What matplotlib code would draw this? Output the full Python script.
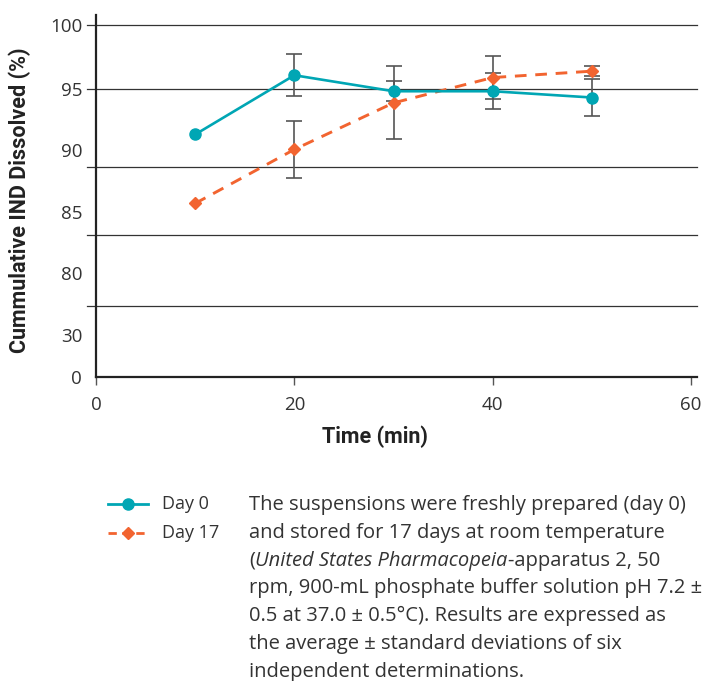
import matplotlib.pyplot as plt
from matplotlib.lines import Line2D

# data (% IND dissolved vs. time)
time_min = [10, 20, 30, 40, 50]
day0 = [91.46, 96.09, 94.84, 94.84, 94.35]
day0_sd = [0, 1.65, 0.8, 1.4, 1.45]
day17 = [86.07, 90.29, 93.93, 95.91, 96.41]
day17_sd = [0, 2.2, 2.85, 1.7, 0.4]

# broken y-axis of the original: label text and where it sits
ytick_labels = ['0', '30', '80', '85', '90', '95', '100']
ytick_pos = [72.5, 75.78, 80.63, 85.39, 90.23, 95, 100]
grid_pos = [100, 95, 88.91, 83.59, 78.05]
xticks = [0, 20, 40, 60]

note_lines = [
    "The suspensions were freshly prepared (day 0)",
    "and stored for 17 days at room temperature",
    None,  # line with italic part, drawn separately
    "rpm, 900-mL phosphate buffer solution pH 7.2 \u00b1",
    "0.5 at 37.0 \u00b1 0.5\u00b0C). Results are expressed as",
    "the average \u00b1 standard deviations of six",
    "independent determinations.",
]

TEAL = '#00a6b4'
ORANGE = '#f26430'
FONT = 'Open Sans'
BOLD = 'Roboto'

W, H = 705, 681
fig = plt.figure(figsize=(W / 100, H / 100), dpi=100)
ax = fig.add_axes([96 / W, 1 - 377 / H, (697 - 96) / W, (377 - 15) / H])

ax.set_xlim(0, 60.6)
ax.set_ylim(72.5, 100.8)

for g in grid_pos:
    ax.plot([-0.9, 60.6], [g, g], color='#333333', lw=0.9, clip_on=False, zorder=1)

# error bars (first point has none)
ax.errorbar(time_min[1:], day0[1:], yerr=day0_sd[1:], fmt='none', ecolor='#555555',
            elinewidth=1.2, capsize=5.5, capthick=1.2, zorder=2)
ax.errorbar(time_min[1:], day17[1:], yerr=day17_sd[1:], fmt='none', ecolor='#555555',
            elinewidth=1.2, capsize=5.5, capthick=1.2, zorder=2)

ax.plot(time_min, day17, color=ORANGE, lw=2.1, ls=(0, (4, 3)), marker='D', ms=6,
        zorder=3)
ax.plot(time_min, day0, color=TEAL, lw=1.9, marker='o', ms=8, zorder=4)

for s in ['top', 'right']:
    ax.spines[s].set_visible(False)
for s in ['left', 'bottom']:
    ax.spines[s].set_linewidth(1.6)
    ax.spines[s].set_color('#222222')

ax.set_yticks(ytick_pos)
ax.set_yticklabels(ytick_labels, fontfamily=FONT, fontsize=13.5, color='#333333')
ax.tick_params(axis='y', length=0, pad=10)
ax.set_xticks(xticks)
ax.set_xticklabels([str(x) for x in xticks], fontfamily=FONT, fontsize=13.5, color='#333333')
ax.tick_params(axis='x', length=6, width=1, color='#555555', pad=8)

fig.text(375 / W, 1 - 437 / H, 'Time (min)', ha='center', va='center',
         fontfamily=BOLD, fontweight='bold', fontsize=15.5, color='#222222')
fig.text(20 / W, 1 - 200 / H, 'Cummulative IND Dissolved (%)', ha='center', va='center',
         rotation=90, fontfamily=BOLD, fontweight='bold', fontsize=15.5, color='#222222')

# legend drawn by hand, next to the note
for i, (lab, col, mk, ms, ls) in enumerate([('Day 0', TEAL, 'o', 8, '-'),
                                             ('Day 17', ORANGE, 'D', 6, (0, (3, 2)))]):
    yp = 1 - (504 + i * 29) / H
    fig.add_artist(Line2D([108 / W, 148 / W], [yp, yp], color=col, lw=2, ls=ls))
    fig.add_artist(Line2D([128 / W], [yp], color=col, marker=mk, ms=ms, ls='none'))
    fig.text(162 / W, yp, lab, ha='left', va='center', fontfamily=FONT,
             fontsize=13, color='#333333')

note_kw = dict(fontfamily=FONT, fontsize=14.5, color='#333333', va='baseline', ha='left')
renderer = fig.canvas.get_renderer()
x0 = 249
for i, line in enumerate(note_lines):
    ybase = 1 - (510 + i * 27.8) / H
    if line is not None:
        fig.text(x0 / W, ybase, line, **note_kw)
        continue
    xp = x0
    for part, style in [('(', 'normal'), ('United States Pharmacopeia', 'italic'),
                        ('-apparatus 2, 50', 'normal')]:
        t = fig.text(xp / W, ybase, part, style=style, **note_kw)
        xp = t.get_window_extent(renderer).x1 + 0.5

fig.savefig('out.png', dpi=100)
